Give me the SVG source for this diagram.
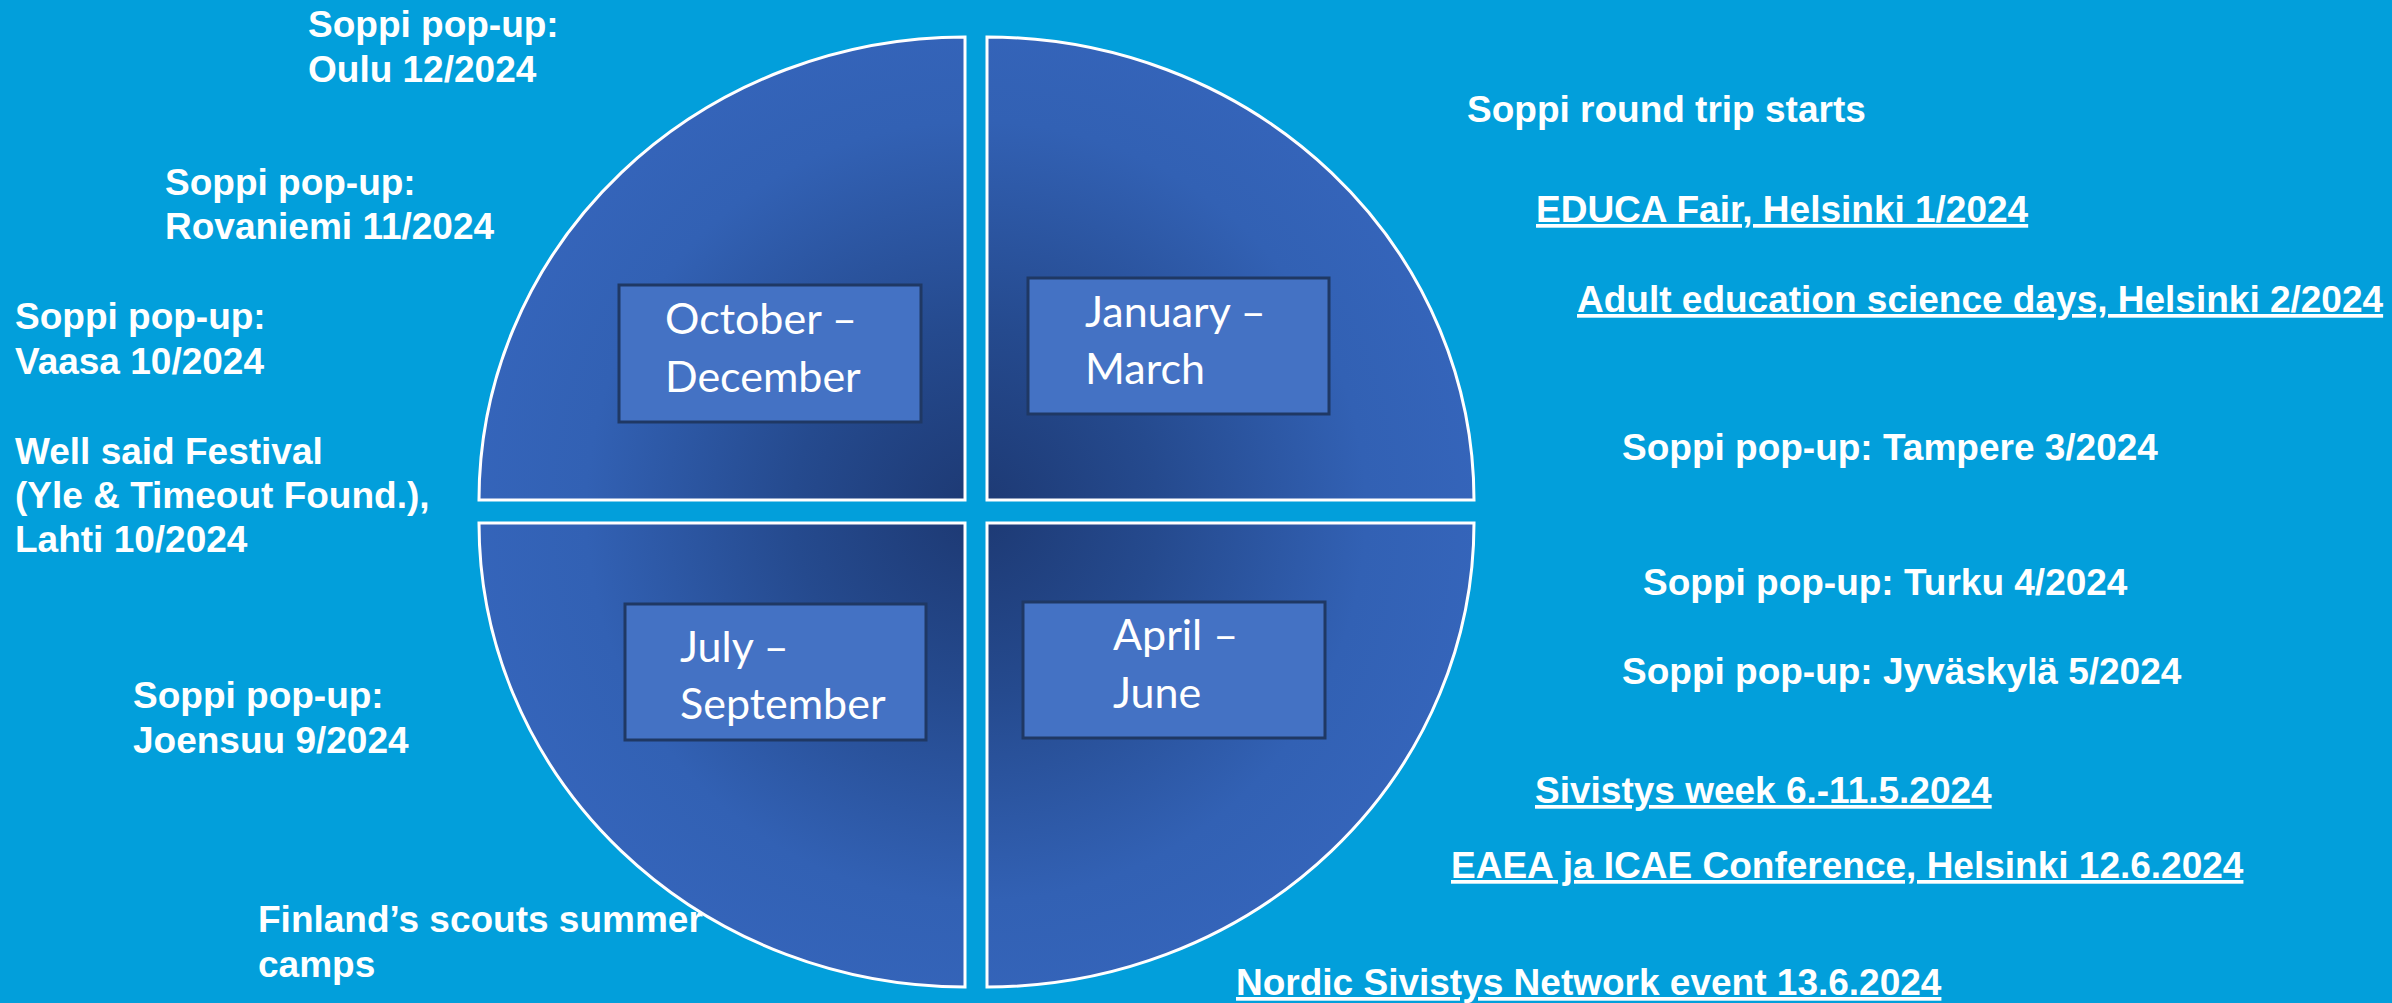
<svg xmlns="http://www.w3.org/2000/svg" width="2392" height="1003" viewBox="0 0 2392 1003">
  <defs>
    <radialGradient id="qgrad" gradientUnits="userSpaceOnUse" cx="976" cy="511" r="520">
      <stop offset="0" stop-color="#1D3973"/>
      <stop offset="0.35" stop-color="#254A8E"/>
      <stop offset="0.75" stop-color="#3261B4"/>
      <stop offset="1" stop-color="#3565BB"/>
    </radialGradient>
    <style>
      .quarter { fill: url(#qgrad); stroke: #FFFFFF; stroke-width: 3; }
      .box { fill: #4472C4; stroke: #1F3864; stroke-width: 3; }
      .month { font-family: Lato, "Open Sans", sans-serif; font-size: 43px; fill: #FFFFFF; }
      .ev { font-family: "Liberation Sans", Arial, sans-serif; font-weight: bold; font-size: 37px; fill: #FFFFFF; }
      .ul { text-decoration: underline; }
    </style>
  </defs>
  <rect x="0" y="0" width="2392" height="1003" fill="#029FDB"/>

  <g id="quarter-oct-dec">
    <path class="quarter" d="M 965,500 L 479,500 A 486,463 0 0 1 965,37 Z"/>
    <rect class="box" x="619" y="285" width="302" height="137"/>
    <text class="month" x="665" y="334">October –</text>
    <text class="month" x="665" y="392">December</text>
  </g>
  <g id="quarter-jan-mar">
    <path class="quarter" d="M 987,500 L 987,37 A 487,463 0 0 1 1474,500 Z"/>
    <rect class="box" x="1028" y="278" width="301" height="136"/>
    <text class="month" x="1085" y="327">January –</text>
    <text class="month" x="1085" y="384">March</text>
  </g>
  <g id="quarter-jul-sep">
    <path class="quarter" d="M 965,523 L 965,987 A 486,464 0 0 1 479,523 Z"/>
    <rect class="box" x="625" y="604" width="301" height="136"/>
    <text class="month" x="680" y="662">July –</text>
    <text class="month" x="680" y="719">September</text>
  </g>
  <g id="quarter-apr-jun">
    <path class="quarter" d="M 987,523 L 1474,523 A 487,464 0 0 1 987,987 Z"/>
    <rect class="box" x="1023" y="602" width="302" height="136"/>
    <text class="month" x="1113" y="650">April –</text>
    <text class="month" x="1113" y="708">June</text>
  </g>

  <g id="connectors"></g>

  <g id="events-left">
    <text class="ev" x="308" y="37">Soppi pop-up:</text>
    <text class="ev" x="308" y="82">Oulu 12/2024</text>
    <text class="ev" x="165" y="195">Soppi pop-up:</text>
    <text class="ev" x="165" y="239">Rovaniemi 11/2024</text>
    <text class="ev" x="15" y="329">Soppi pop-up:</text>
    <text class="ev" x="15" y="374">Vaasa 10/2024</text>
    <text class="ev" x="15" y="464">Well said Festival</text>
    <text class="ev" x="15" y="508">(Yle &amp; Timeout Found.),</text>
    <text class="ev" x="15" y="552">Lahti 10/2024</text>
    <text class="ev" x="133" y="708">Soppi pop-up:</text>
    <text class="ev" x="133" y="753">Joensuu 9/2024</text>
    <text class="ev" x="258" y="932">Finland’s scouts summer</text>
    <text class="ev" x="258" y="977">camps</text>
  </g>

  <g id="events-right">
    <text class="ev" x="1467" y="122">Soppi round trip starts</text>
    <text class="ev ul" x="1536" y="222">EDUCA Fair, Helsinki 1/2024</text>
    <text class="ev ul" x="1577" y="312">Adult education science days, Helsinki 2/2024</text>
    <text class="ev" x="1622" y="460">Soppi pop-up: Tampere 3/2024</text>
    <text class="ev" x="1643" y="595">Soppi pop-up: Turku 4/2024</text>
    <text class="ev" x="1622" y="684">Soppi pop-up: Jyväskylä 5/2024</text>
    <text class="ev ul" x="1535" y="803">Sivistys week 6.-11.5.2024</text>
    <text class="ev ul" x="1451" y="878">EAEA ja ICAE Conference, Helsinki 12.6.2024</text>
    <text class="ev ul" x="1236" y="995">Nordic Sivistys Network event 13.6.2024</text>
  </g>
</svg>
